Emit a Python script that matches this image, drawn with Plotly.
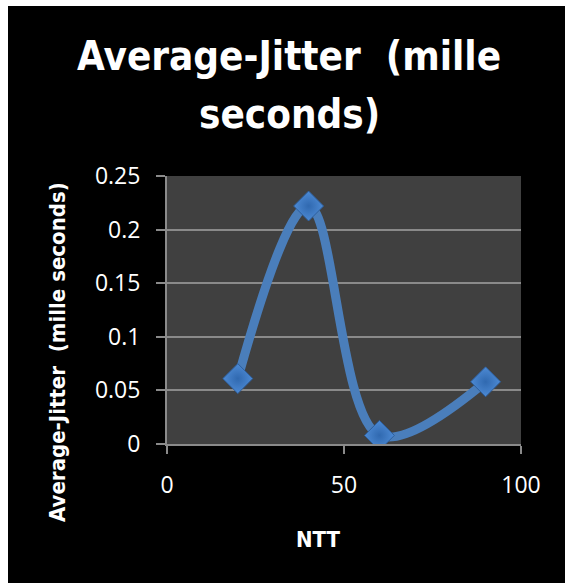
import plotly.graph_objects as go

# Average jitter measured for each NTT value
ntt = [20, 40, 60, 90]
avg_jitter = [0.061, 0.222, 0.008, 0.058]

x_ticks = [0, 50, 100]
y_ticks = [0, 0.05, 0.1, 0.15, 0.2, 0.25]

title_lines = ["Average-Jitter&nbsp; (mille", "seconds)"]
y_title = "Average-Jitter&nbsp; (mille seconds)"
x_title = "NTT"

narrow_bold = "DejaVu Sans Condensed, Liberation Sans Narrow, Arial Narrow, sans-serif"
tick_font = dict(family="Open Sans, Noto Sans, sans-serif", size=23, color="#ffffff")
grid_col = "#8a8a8a"

fig = go.Figure()
fig.add_trace(go.Scatter(
    x=ntt, y=avg_jitter, mode="lines+markers",
    line=dict(color="#4a7ebb", width=9, shape="spline", smoothing=1),
    marker=dict(symbol="diamond", size=23, color="#4d8ad4",
                line=dict(color="#2d5e9c", width=1),
                gradient=dict(type="radial", color="#3069b0")),
    cliponaxis=True, showlegend=False,
))

L, R, T, B = 167, 44, 176, 139
W, H = 565, 583
pw, ph = W - L - R, H - T - B

def px_x(p):
    return (p - L) / pw

def px_y(p):
    return (H - B - p) / ph

title_font = dict(family=narrow_bold, size=40, color="#ffffff", weight="bold")
title_annotations = [
    dict(text=line, xref="paper", yref="paper", x=px_x(289), y=px_y(yc),
         showarrow=False, xanchor="center", yanchor="middle", font=title_font)
    for line, yc in zip(title_lines, [56, 114])
]

fig.update_layout(
    width=W, height=H,
    margin=dict(l=L, r=R, t=T, b=B, autoexpand=False),
    paper_bgcolor="#ffffff",
    plot_bgcolor="#404040",
    shapes=[
        dict(type="rect", xref="paper", yref="paper", layer="below",
             x0=px_x(8), x1=px_x(W + 2), y0=px_y(H + 2), y1=px_y(6),
             fillcolor="#000000", line=dict(width=0)),
        dict(type="rect", xref="paper", yref="paper", layer="below",
             x0=0, x1=1, y0=0, y1=1,
             fillcolor="#404040", line=dict(width=0)),
    ],
    annotations=title_annotations + [
        dict(text=y_title, xref="paper", yref="paper", x=px_x(57), y=px_y(352),
             textangle=-90, showarrow=False, xanchor="center", yanchor="middle",
             font=dict(family=narrow_bold, size=22, color="#ffffff", weight="bold")),
        dict(text=x_title, xref="paper", yref="paper", x=px_x(318), y=px_y(539),
             showarrow=False, xanchor="center", yanchor="middle",
             font=dict(family=narrow_bold, size=22, color="#ffffff", weight="bold")),
    ],
    xaxis=dict(range=[0, 100], tickvals=x_ticks, showgrid=False, zeroline=False,
               showline=True, linecolor=grid_col, linewidth=2,
               ticks="outside", ticklen=8, tickwidth=2, tickcolor=grid_col,
               tickfont=tick_font, ticklabelstandoff=11),
    yaxis=dict(range=[0, 0.25], tickvals=y_ticks, showgrid=True, gridcolor=grid_col,
               gridwidth=2, zeroline=False, showline=True, linecolor=grid_col,
               linewidth=2, ticks="outside", ticklen=9, tickwidth=2,
               tickcolor=grid_col, tickfont=tick_font, ticklabelstandoff=11),
)

fig.write_html("out.html")
